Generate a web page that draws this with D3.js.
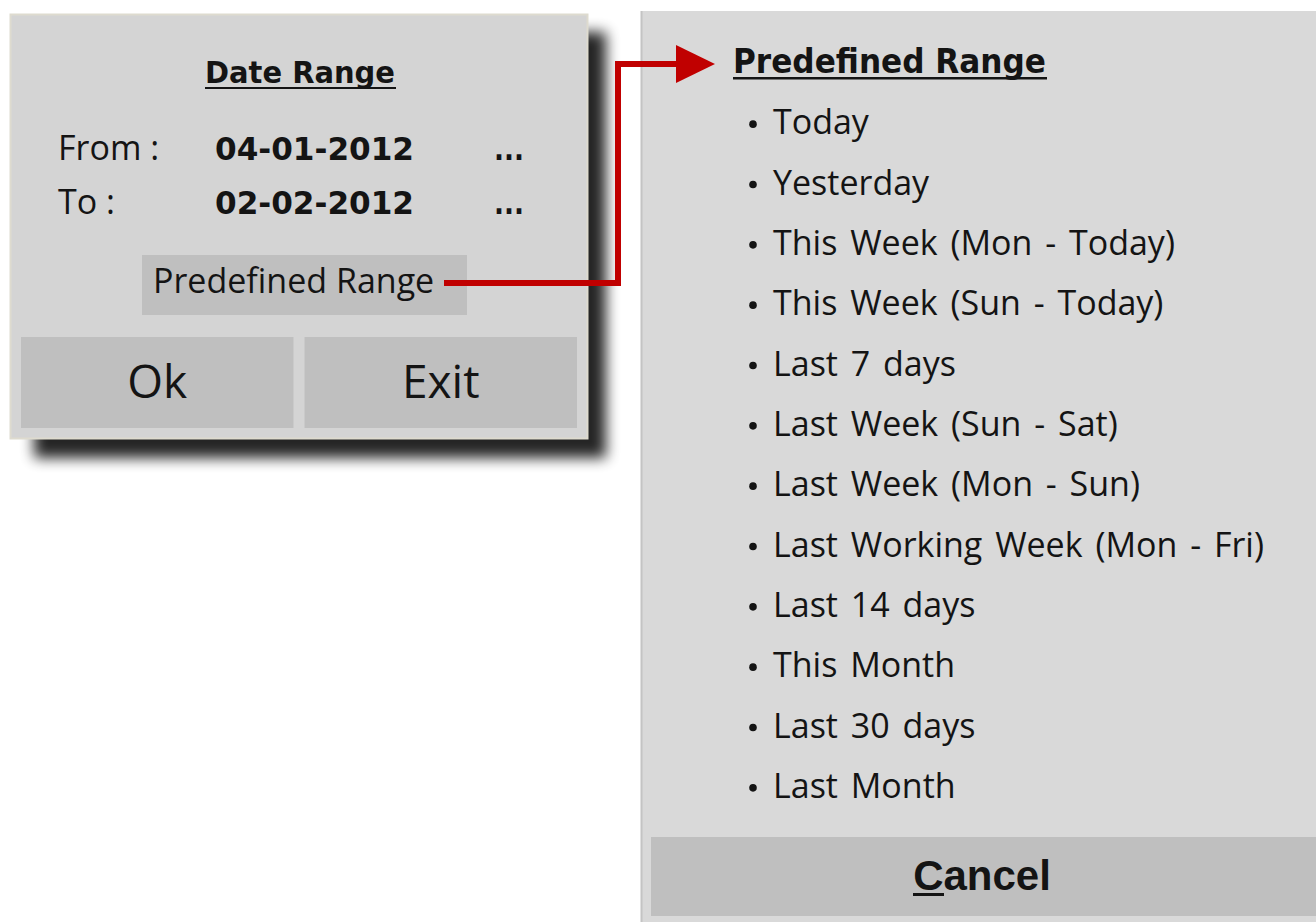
<!DOCTYPE html>
<html>
<head>
<meta charset="utf-8">
<script src="https://cdn.jsdelivr.net/npm/d3@7"></script>
<style>
  body { margin: 0; background: #fff; }
  svg { display: block; }
</style>
</head>
<body>
<svg width="1316" height="922"></svg>
<script>
// dialog contents
var dialogTitle = "Date Range";
var rowLabels = ["From :", "To :"];
var rowDates = ["04-01-2012", "02-02-2012"];
var predefinedLabel = "Predefined Range";
var buttonLabels = ["Ok", "Exit"];

// predefined range list
var listTitle = "Predefined Range";
var rangeItems = ["Today", "Yesterday", "This Week (Mon - Today)", "This Week (Sun - Today)",
  "Last 7 days", "Last Week (Sun - Sat)", "Last Week (Mon - Sun)", "Last Working Week (Mon - Fri)",
  "Last 14 days", "This Month", "Last 30 days", "Last Month"];
var cancelLabel = "Cancel";

var svg = d3.select("svg");
var ink = "#141414";
var red = "#c00000";

var defs = svg.append("defs");
defs.append("filter").attr("id", "shadow")
  .attr("x", "-20%").attr("y", "-20%").attr("width", "140%").attr("height", "140%")
  .append("feGaussianBlur").attr("stdDeviation", 7);

// ---- right panel
var panel = svg.append("g");
panel.append("rect")
  .attr("x", 641).attr("y", 11).attr("width", 700).attr("height", 920)
  .attr("fill", "#d9d9d9");
panel.append("line")
  .attr("x1", 641.5).attr("x2", 641.5).attr("y1", 11).attr("y2", 922)
  .attr("stroke", "#c4c4c4").attr("stroke-width", 2);

panel.append("text")
  .attr("x", 733).attr("y", 73)
  .attr("font-family", "DejaVu Sans").attr("font-weight", "bold")
  .attr("font-size", 33).attr("fill", ink)
  .attr("textLength", 313).attr("lengthAdjust", "spacingAndGlyphs")
  .text(listTitle);
panel.append("rect")
  .attr("x", 733).attr("y", 77).attr("width", 314).attr("height", 2.5)
  .attr("fill", ink);

var yList = d3.scaleBand().domain(rangeItems).range([93, 817]);

var rows = panel.append("g").selectAll("g")
  .data(rangeItems)
  .enter().append("g")
  .attr("transform", function (d) { return "translate(0," + (yList(d) + yList.bandwidth() / 2) + ")"; });
rows.append("circle")
  .attr("cx", 753).attr("cy", 1).attr("r", 3.8)
  .attr("fill", ink);
rows.append("text")
  .attr("x", 773).attr("y", 11)
  .attr("font-family", "Open Sans").attr("font-size", 34)
  .attr("word-spacing", 4)
  .attr("fill", ink)
  .text(function (d) { return d; });

panel.append("rect")
  .attr("x", 651).attr("y", 837).attr("width", 700).attr("height", 79)
  .attr("fill", "#bfbfbf");
panel.append("text")
  .attr("x", 982).attr("y", 890)
  .attr("text-anchor", "middle")
  .attr("font-family", "Liberation Sans").attr("font-weight", "bold")
  .attr("font-size", 42).attr("fill", ink)
  .text(cancelLabel);
panel.append("rect")
  .attr("x", 913).attr("y", 893).attr("width", 31).attr("height", 3)
  .attr("fill", ink);

// ---- left dialog with drop shadow
svg.append("rect")
  .attr("x", 34).attr("y", 32).attr("width", 572).attr("height", 426)
  .attr("fill", "#000").attr("opacity", 0.85)
  .attr("filter", "url(#shadow)");

var dlg = svg.append("g");
dlg.append("rect")
  .attr("x", 10.5).attr("y", 14.5).attr("width", 577).attr("height", 424)
  .attr("fill", "#d4d4d4").attr("stroke", "#dedbcf").attr("stroke-width", 2);

dlg.append("text")
  .attr("x", 205).attr("y", 83)
  .attr("font-family", "DejaVu Sans").attr("font-weight", "bold")
  .attr("font-size", 31).attr("fill", ink)
  .attr("textLength", 190).attr("lengthAdjust", "spacingAndGlyphs")
  .text(dialogTitle);
dlg.append("rect")
  .attr("x", 205).attr("y", 87).attr("width", 191).attr("height", 2)
  .attr("fill", ink);

var yRow = d3.scalePoint().domain(rowLabels).range([160, 214]);

dlg.append("g").selectAll("text")
  .data(rowLabels)
  .enter().append("text")
  .attr("x", 58).attr("y", function (d) { return yRow(d); })
  .attr("font-family", "Open Sans").attr("font-size", 34)
  .attr("fill", ink)
  .text(function (d) { return d; });

dlg.append("g").selectAll("text")
  .data(rowDates)
  .enter().append("text")
  .attr("x", 215).attr("y", function (d, i) { return yRow(rowLabels[i]); })
  .attr("font-family", "DejaVu Sans").attr("font-weight", "bold")
  .attr("font-size", 32).attr("fill", ink)
  .attr("textLength", 199).attr("lengthAdjust", "spacingAndGlyphs")
  .text(function (d) { return d; });

dlg.append("g").selectAll("text")
  .data(rowLabels)
  .enter().append("text")
  .attr("x", 494).attr("y", function (d) { return yRow(d); })
  .attr("font-family", "DejaVu Sans").attr("font-weight", "bold")
  .attr("font-size", 30).attr("fill", ink)
  .attr("textLength", 30).attr("lengthAdjust", "spacingAndGlyphs")
  .text("...");

dlg.append("rect")
  .attr("x", 142).attr("y", 255).attr("width", 325).attr("height", 60)
  .attr("fill", "#bfbfbf");
dlg.append("text")
  .attr("x", 153).attr("y", 293)
  .attr("font-family", "Open Sans").attr("font-size", 34)
  .attr("fill", ink)
  .text(predefinedLabel);

var xBtn = d3.scaleBand().domain(buttonLabels).range([21, 577]).paddingInner(0.039);
var btn = dlg.append("g").selectAll("g")
  .data(buttonLabels)
  .enter().append("g");
btn.append("rect")
  .attr("x", function (d) { return xBtn(d); })
  .attr("y", 337).attr("width", xBtn.bandwidth()).attr("height", 91)
  .attr("fill", "#bfbfbf");
btn.append("text")
  .attr("x", function (d) { return xBtn(d) + xBtn.bandwidth() / 2; })
  .attr("y", 398)
  .attr("text-anchor", "middle")
  .attr("font-family", "Open Sans").attr("font-size", 46)
  .attr("fill", ink)
  .text(function (d) { return d; });

// ---- red connector arrow
svg.append("path")
  .attr("d", d3.line()([[444, 283], [618, 283], [618, 64], [682, 64]]))
  .attr("fill", "none").attr("stroke", red).attr("stroke-width", 6)
  .attr("stroke-linejoin", "miter");
svg.append("path")
  .attr("d", d3.line()([[676, 45], [715, 64], [676, 83]]) + "Z")
  .attr("fill", red);
</script>
</body>
</html>
